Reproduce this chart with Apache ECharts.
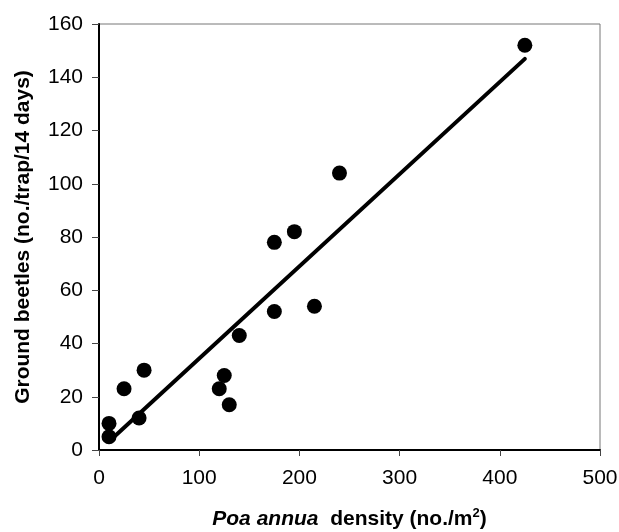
<!DOCTYPE html>
<html>
<head>
<meta charset="utf-8">
<script src="https://cdn.jsdelivr.net/npm/echarts@6/dist/echarts.min.js"></script>
<style>
html,body{margin:0;padding:0;background:#fff;}
#chart{width:619px;height:532px;}
</style>
</head>
<body>
<div id="chart"></div>
<script>
// Data
var poaDensity = [10, 10, 25, 40, 45, 120, 125, 130, 140, 175, 175, 195, 215, 240, 425];
var beetles    = [5, 10, 23, 12, 30, 23, 28, 17, 43, 52, 78, 82, 54, 104, 152];
var trendX = [10, 425];
var trendY = [3.2, 146.9];
var xTicks = [0, 100, 200, 300, 400, 500];
var yTicks = [0, 20, 40, 60, 80, 100, 120, 140, 160];

var points = poaDensity.map(function (x, i) { return [x, beetles[i]]; });
var trend = trendX.map(function (x, i) { return [x, trendY[i]]; });

var FONT = '"Liberation Sans", Arial, sans-serif';
var chart = echarts.init(document.getElementById('chart'), null, {renderer: 'canvas'});
chart.setOption({
  animation: false,
  backgroundColor: '#fff',
  grid: {left: 99, right: 19, top: 24, bottom: 82, containLabel: false, outerBoundsMode: 'none',
         show: true, borderColor: '#777', borderWidth: 1, backgroundColor: 'transparent'},
  xAxis: {
    type: 'value', min: xTicks[0], max: xTicks[xTicks.length - 1], interval: 100,
    name: '{i|Poa annua}{b|  density (no./m}{s|2}{b|)}',
    nameLocation: 'middle', nameGap: 56,
    nameTextStyle: {
      fontFamily: FONT, fontSize: 21, fontWeight: 'bold', color: '#000',
      rich: {
        i: {fontFamily: FONT, fontSize: 21, lineHeight: 26, fontWeight: 'bold', fontStyle: 'italic', color: '#000'},
        b: {fontFamily: FONT, fontSize: 21, lineHeight: 26, fontWeight: 'bold', color: '#000'},
        s: {fontFamily: FONT, fontSize: 13, lineHeight: 14, fontWeight: 'bold', color: '#000', padding: [0, 0, 12, 0]}
      }
    },
    axisLine: {show: true, onZero: false, lineStyle: {color: '#000', width: 2}},
    axisTick: {show: true, inside: false, length: 6, lineStyle: {color: '#444', width: 1}},
    axisLabel: {fontFamily: FONT, fontSize: 21, color: '#000', margin: 18},
    splitLine: {show: false}
  },
  yAxis: {
    type: 'value', min: yTicks[0], max: yTicks[yTicks.length - 1], interval: 20,
    name: 'Ground beetles (no./trap/14 days)',
    nameLocation: 'middle', nameGap: 65, nameRotate: 90,
    nameTextStyle: {fontFamily: FONT, fontSize: 21, fontWeight: 'bold', color: '#000'},
    axisLine: {show: true, onZero: false, lineStyle: {color: '#000', width: 2}},
    axisTick: {show: true, inside: false, length: 7, lineStyle: {color: '#444', width: 1}},
    axisLabel: {fontFamily: FONT, fontSize: 21, color: '#000', margin: 16},
    splitLine: {show: false}
  },
  series: [
    {
      type: 'line', data: trend, showSymbol: false, symbol: 'none',
      lineStyle: {color: '#000', width: 4, cap: 'round'}, z: 2, silent: true
    },
    {
      type: 'scatter', data: points, symbol: 'circle', symbolSize: 15,
      itemStyle: {color: '#000', opacity: 1}, z: 3
    }
  ]
});
</script>
</body>
</html>
